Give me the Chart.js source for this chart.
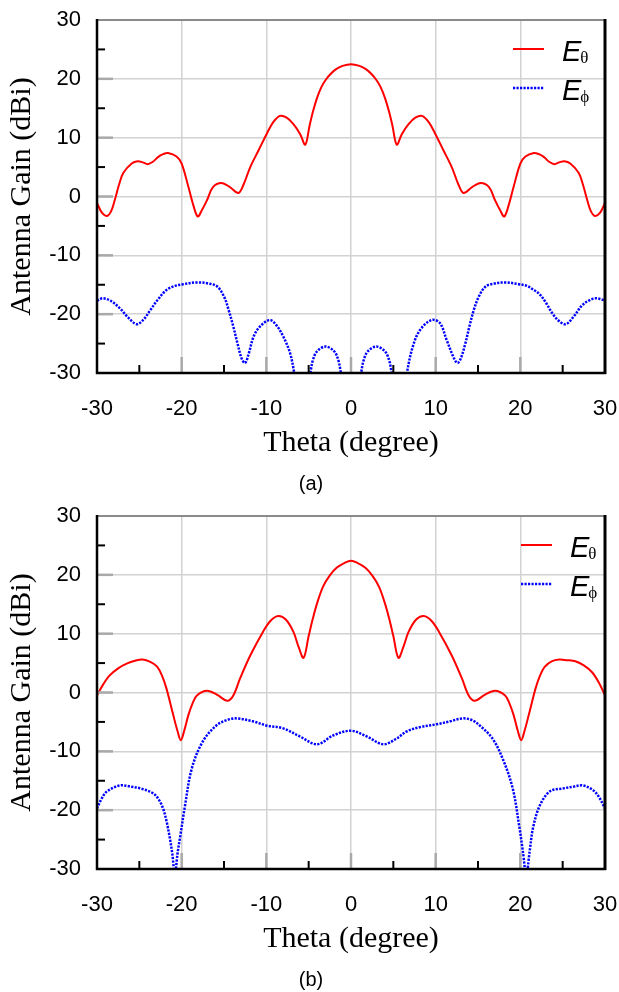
<!DOCTYPE html>
<html>
<head>
<meta charset="utf-8">
<script src="https://cdn.jsdelivr.net/npm/chart.js@4/dist/chart.umd.min.js"></script>
<style>
  html, body { margin: 0; padding: 0; background: #fff; }
  .panel { position: relative; width: 619px; height: 496px; }
  canvas { position: absolute; left: 0; top: 0; }
  .cap { position: absolute; left: 0; width: 622px; text-align: center; top: 471px;
         font-family: 'Liberation Sans', Arial, sans-serif; font-size: 20px; color: #000; line-height: 24px; }
</style>
</head>
<body>
<div class="panel"><canvas id="cA" width="619" height="496"></canvas><div class="cap">(a)</div></div>
<div class="panel"><canvas id="cB" width="619" height="496"></canvas><div class="cap">(b)</div></div>
<script>
// ---- axis ticks ----
const xTickValues = [-30, -20, -10, 0, 10, 20, 30];
const yTickValues = [-30, -20, -10, 0, 10, 20, 30];
const minorTickValues = [-25, -15, -5, 5, 15, 25];
const seriesNames = ['θ', 'ϕ'];

// ---- panel (a): E-theta ----
const aThetaAngle = [-30, -29.4, -28.8, -28.3, -27.9, -27.4, -26.9, -25.9, -25.2, -24.6, -24.0, -23.4, -22.8, -22.2, -21.6, -20.6, -20.0, -19.2, -18.6, -18.1, -17.6, -17.0, -16.3, -15.3, -14.3, -13.3, -12.7, -11.9, -10.9, -9.9, -9.2, -8.4, -7.6, -6.8, -6.0, -5.4, -4.9, -4.5, -4.0, -3.5, -3.0, -2.5, -1.8, -1.0, 0,
  1.0, 1.8, 2.5, 3.0, 3.5, 4.0, 4.5, 4.9, 5.4, 6.0, 6.8, 7.6, 8.4, 9.2, 9.9, 10.9, 11.9, 12.7, 13.3, 14.3, 15.3, 16.3, 17.0, 17.6, 18.1, 18.6, 19.2, 20.0, 20.6, 21.6, 22.2, 22.8, 23.4, 24.0, 24.6, 25.2, 25.9, 26.9, 27.4, 27.9, 28.3, 28.8, 29.4, 30];
const aThetaGain = [-1.1, -2.8, -3.3, -2.4, -0.6, 2.0, 4.0, 5.6, 6.0, 5.8, 5.5, 5.9, 6.7, 7.2, 7.4, 6.8, 5.6, 1.6, -1.6, -3.4, -2.3, -0.6, 1.6, 2.3, 1.6, 0.6, 2.0, 5.0, 7.9, 10.8, 12.6, 13.7, 13.4, 12.3, 10.6, 8.8, 12.0, 14.4, 16.8, 18.6, 19.8, 20.7, 21.6, 22.2, 22.5,
  22.2, 21.6, 20.7, 19.8, 18.6, 16.8, 14.4, 12.0, 8.8, 10.6, 12.3, 13.4, 13.7, 12.6, 10.8, 7.9, 5.0, 2.0, 0.6, 1.6, 2.3, 1.6, -0.6, -2.3, -3.4, -1.6, 1.6, 5.6, 6.8, 7.4, 7.2, 6.7, 5.9, 5.5, 5.8, 6.0, 5.6, 4.0, 2.0, -0.6, -2.4, -3.3, -2.8, -1.1];

// ---- panel (a): E-phi ----
const aPhiAngle = [-30, -29.3, -28.3, -27.3, -26.3, -25.3, -24.5, -23.7, -22.8, -21.8, -20.8, -19.8, -18.2, -16.8, -15.8, -15.0, -14.45, -13.9, -13.4, -12.9, -12.5, -12.1, -11.5, -10.75, -9.6, -8.8, -8.0, -7.2, -6.7, -6.2, -5.7, -5.3, -4.8, -4.5, -4.0, -3.0, -2.0, -1.5, -1.2, -0.7, 0,
  0.7, 1.2, 1.5, 2.0, 3.0, 4.0, 4.5, 4.8, 5.3, 5.7, 6.2, 6.6, 7.3, 8.15, 9.5, 10.5, 11.3, 12.2, 12.6, 13.0, 13.5, 14.0, 14.5, 15.1, 15.9, 16.9, 18.3, 19.8, 20.8, 21.5, 22.2, 23.0, 23.8, 24.6, 25.4, 26.3, 27.3, 28.2, 29.0, 30];
const aPhiGain = [-17.7, -17.3, -17.8, -19.0, -20.6, -21.7, -20.9, -19.3, -17.5, -15.9, -15.2, -14.9, -14.6, -14.8, -15.3, -17.0, -19.3, -22.1, -25.0, -27.6, -28.3, -26.8, -23.8, -22.1, -21.0, -21.9, -23.8, -26.6, -30, -34, -40, -34, -30, -27.8, -26.3, -25.5, -26.3, -27.8, -30, -35, -42,
  -35, -30, -27.8, -26.3, -25.5, -26.3, -27.8, -30, -34, -40, -34, -30, -25.5, -22.7, -21.0, -21.5, -24.4, -27.6, -28.3, -27.4, -25.0, -22.0, -19.3, -17.0, -15.3, -14.8, -14.6, -14.9, -15.2, -15.8, -16.5, -18.0, -19.9, -21.2, -21.7, -20.4, -18.5, -17.6, -17.3, -17.7];

// ---- panel (b): E-theta ----
const bThetaAngle = [-30, -29.3, -28.5, -27.5, -26.5, -25.5, -24.6, -23.7, -22.9, -22.3, -21.8, -21.0, -20.5, -20.1, -19.7, -19.2, -18.7, -18.2, -17.0, -15.8, -14.6, -13.9, -13.1, -11.9, -10.4, -9.5, -8.6, -7.7, -6.8, -6.2, -5.6, -5.0, -4.5, -4.0, -3.3, -2.5, -1.7, -0.8, 0,
  0.8, 1.7, 2.5, 3.3, 4.0, 4.5, 5.0, 5.6, 6.2, 6.8, 7.7, 8.6, 9.5, 10.4, 11.9, 13.1, 13.9, 14.6, 15.8, 17.0, 18.2, 18.7, 19.2, 19.7, 20.1, 20.5, 21.0, 21.8, 22.3, 22.9, 23.7, 24.6, 25.5, 26.5, 27.5, 28.5, 29.3, 30];
const bThetaGain = [-0.5, 1.3, 2.9, 4.1, 4.9, 5.4, 5.6, 5.2, 4.4, 2.8, 0.7, -3.8, -6.5, -8.1, -6.5, -3.8, -1.8, -0.5, 0.3, -0.4, -1.4, -0.5, 2.4, 6.3, 10.3, 12.2, 13.0, 12.4, 10.3, 7.8, 5.9, 9.6, 12.6, 15.2, 18.0, 19.9, 21.2, 22.0, 22.4,
  22.0, 21.2, 19.9, 18.0, 15.2, 12.6, 9.6, 5.9, 7.8, 10.3, 12.4, 13.0, 12.2, 10.3, 6.3, 2.4, -0.5, -1.4, -0.4, 0.3, -0.5, -1.8, -3.8, -6.5, -8.1, -6.5, -3.8, 0.7, 2.8, 4.4, 5.3, 5.6, 5.5, 5.3, 4.6, 3.4, 1.6, -0.5];

// ---- panel (b): E-phi ----
const bPhiAngle = [-30, -29.4, -28.8, -27.3, -26.0, -24.9, -23.4, -22.7, -22.2, -21.8, -21.4, -21.1, -20.8, -20.5, -20.2, -19.6, -18.8, -17.5, -15.9, -14.7, -13.5, -11.6, -10.0, -8.0, -6.0, -4.0, -2.1, 0,
  1.9, 3.8, 5.3, 6.6, 8.1, 10.1, 11.7, 13.2, 14.3, 15.2, 16.7, 17.9, 19.1, 19.9, 20.3, 20.7, 21.1, 21.5, 22.3, 23.5, 25.1, 26.3, 27.4, 28.6, 29.3, 30];
const bPhiGain = [-19.7, -17.9, -16.8, -15.8, -16.0, -16.3, -17.1, -18.2, -19.7, -21.8, -24.7, -27.5, -31, -27.5, -24.7, -19.2, -12.9, -8.3, -5.6, -4.7, -4.4, -4.9, -5.6, -6.1, -7.5, -8.8, -7.3, -6.5,
  -7.5, -8.8, -7.9, -6.6, -5.9, -5.4, -4.9, -4.4, -4.7, -5.6, -7.8, -11.2, -16.3, -23.0, -27.0, -31, -27.0, -23.0, -19.2, -16.8, -16.3, -16.0, -15.8, -16.6, -17.8, -19.7];

// ---- styling ----
const SANS = "'Liberation Sans', Arial, sans-serif";
const SERIF = "'Liberation Serif', 'Times New Roman', serif";
const RED = '#ff0000';
const BLUE = '#0000ff';

function pts(xs, ys) { return xs.map((x, i) => ({ x: x, y: ys[i] })); }

const framePlugin = {
  id: 'frame',
  afterDatasetsDraw(chart) {
    const { ctx, chartArea: a, scales } = chart;
    const xs = scales.x, ys = scales.y;
    ctx.save();
    ctx.lineCap = 'butt';
    ctx.strokeStyle = '#a9a9a9';
    ctx.lineWidth = 2.5;
    yTickValues.slice(1, -1).forEach(v => {
      const y = ys.getPixelForValue(v);
      ctx.beginPath(); ctx.moveTo(a.left, y); ctx.lineTo(a.left + 16, y); ctx.stroke();
    });
    xTickValues.slice(1, -1).forEach(v => {
      const x = xs.getPixelForValue(v);
      ctx.beginPath(); ctx.moveTo(x, a.bottom); ctx.lineTo(x, a.bottom - 16); ctx.stroke();
    });
    ctx.strokeStyle = '#000';
    ctx.lineWidth = 2;
    minorTickValues.forEach(v => {
      const y = ys.getPixelForValue(v);
      ctx.beginPath(); ctx.moveTo(a.left, y); ctx.lineTo(a.left + 8, y); ctx.stroke();
      const x = xs.getPixelForValue(v);
      ctx.beginPath(); ctx.moveTo(x, a.bottom); ctx.lineTo(x, a.bottom - 8); ctx.stroke();
    });
    ctx.strokeStyle = '#8a8a8a';
    ctx.lineWidth = 2;
    ctx.beginPath(); ctx.moveTo(a.left, a.top); ctx.lineTo(a.right, a.top); ctx.stroke();
    ctx.strokeStyle = '#000';
    ctx.lineWidth = 3;
    ctx.beginPath(); ctx.moveTo(a.right, a.top - 1); ctx.lineTo(a.right, a.bottom + 1); ctx.stroke();
    ctx.lineWidth = 2.5;
    ctx.beginPath(); ctx.moveTo(a.left, a.top - 1); ctx.lineTo(a.left, a.bottom); ctx.lineTo(a.right + 1, a.bottom); ctx.stroke();
    ctx.restore();
  },
  afterDraw(chart) {
    const { ctx, chartArea: a } = chart;
    const shift = chart.options.plugins.frame.legendShift || 0;
    const x0 = a.right - 92 + shift;
    ctx.save();
    chart.data.datasets.forEach((ds, i) => {
      const y = a.top + 29 + i * 39;
      ctx.strokeStyle = ds.borderColor;
      ctx.lineWidth = ds.borderWidth;
      ctx.setLineDash(ds.borderDash || []);
      ctx.beginPath(); ctx.moveTo(x0, y); ctx.lineTo(x0 + 31, y); ctx.stroke();
      ctx.setLineDash([]);
      ctx.fillStyle = '#000';
      ctx.textBaseline = 'alphabetic';
      ctx.textAlign = 'left';
      ctx.font = "italic 29px " + SANS;
      const ex = x0 + 49;
      ctx.fillText('E', ex, y + 12);
      const w = ctx.measureText('E').width;
      ctx.font = "17px " + SERIF;
      ctx.fillText(seriesNames[i], ex + w - 1, y + 14);
    });
    ctx.restore();
  }
};

function makeChart(id, thX, thY, phX, phY, legendShift) {
  return new Chart(document.getElementById(id), {
    type: 'line',
    data: {
      datasets: [
        { label: 'Eθ', data: pts(thX, thY), borderColor: RED, borderWidth: 2, pointRadius: 0, fill: false, tension: 0.35 },
        { label: 'Eϕ', data: pts(phX, phY), borderColor: BLUE, borderWidth: 2.5, borderDash: [2.2, 1.3], pointRadius: 0, fill: false, tension: 0.35 }
      ]
    },
    options: {
      responsive: false,
      animation: false,
      events: [],
      layout: { padding: { left: 0, right: 14, top: 20, bottom: 0 } },
      plugins: { legend: { display: false }, tooltip: { enabled: false }, frame: { legendShift: legendShift } },
      scales: {
        x: {
          type: 'linear', min: -30, max: 30,
          afterBuildTicks: s => { s.ticks = xTickValues.map(v => ({ value: v })); },
          ticks: { color: '#000', font: { family: SANS, size: 22 }, padding: 23, maxRotation: 0 },
          grid: { color: '#d2d2d2', lineWidth: 1.5, drawTicks: false },
          border: { display: false },
          title: { display: true, text: 'Theta (degree)', color: '#000', font: { family: SERIF, size: 30 }, padding: { top: 0, bottom: 35 } },
          afterFit: s => { s.height = 123; s.paddingLeft = 0; s.paddingRight = 0; }
        },
        y: {
          type: 'linear', min: -30, max: 30,
          afterBuildTicks: s => { s.ticks = yTickValues.map(v => ({ value: v })); },
          ticks: { color: '#000', font: { family: SANS, size: 22 }, padding: 16 },
          grid: { color: '#d2d2d2', lineWidth: 1.5, drawTicks: false },
          border: { display: false },
          title: { display: true, text: 'Antenna Gain (dBi)', color: '#000', font: { family: SERIF, size: 30 }, padding: { top: 4, bottom: 0 } },
          afterFit: s => { s.width = 97; s.paddingTop = 0; s.paddingBottom = 0; }
        }
      }
    },
    plugins: [framePlugin]
  });
}

makeChart('cA', aThetaAngle, aThetaGain, aPhiAngle, aPhiGain, 0);
makeChart('cB', bThetaAngle, bThetaGain, bPhiAngle, bPhiGain, 8);
</script>
</body>
</html>
